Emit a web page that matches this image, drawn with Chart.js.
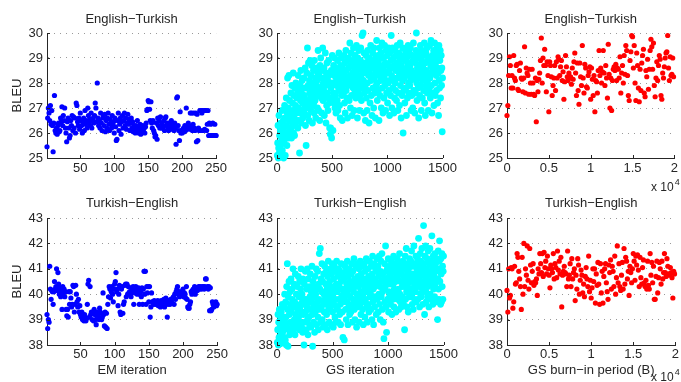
<!DOCTYPE html>
<html>
<head>
<meta charset="utf-8">
<script src="https://cdn.jsdelivr.net/npm/chart.js@4.4.1/dist/chart.umd.min.js"></script>
<style>
html,body{margin:0;padding:0;background:#fff;}
#wrap{position:relative;width:681px;height:382px;overflow:hidden;background:#fff;}
#wrap canvas{position:absolute;}
</style>
</head>
<body>
<div id="wrap"></div>
<script>
// BLEU per EM iteration (1..250)
const emEnTr=[
25.45,26.6,27.0,26.8,26.5,27.1,26.35,26.9,26.3,25.25,
26.4,27.5,26.1,26.0,26.2,25.95,26.3,26.4,26.05,26.1,
26.6,26.45,27.05,26.3,26.7,26.5,27.0,26.2,26.0,25.65,
26.45,26.6,26.2,25.8,25.9,26.5,26.3,26.7,26.1,26.65,
26.2,26.6,26.0,27.2,27.1,26.45,26.3,26.6,26.15,26.8,
26.5,26.3,26.0,26.45,26.6,26.1,26.9,26.35,26.5,26.2,
27.0,26.7,26.4,26.55,26.3,26.8,26.2,26.5,26.6,26.4,
26.7,27.2,27.0,26.45,28.0,26.6,26.3,26.5,26.2,26.8,
26.4,26.1,26.6,26.7,26.3,26.75,26.05,26.5,26.2,26.6,
26.8,26.35,26.1,26.55,26.4,26.2,26.7,26.3,26.45,26.0,
26.6,26.25,25.7,25.75,26.5,26.8,26.1,26.35,26.6,25.95,
26.45,26.7,26.2,26.5,26.8,26.3,26.6,26.15,26.4,26.75,
26.35,26.55,26.1,26.4,26.6,26.2,26.45,26.05,26.3,26.15,
26.0,26.3,26.2,26.5,26.1,26.0,26.25,26.35,25.95,26.2,
26.1,26.3,26.15,26.2,26.0,26.25,26.4,26.9,26.95,27.3,
27.25,26.95,26.5,27.25,26.4,26.2,26.5,26.1,26.0,25.85,
25.9,26.4,25.75,26.6,26.3,26.5,26.2,26.65,26.2,26.4,
26.2,26.3,26.5,26.1,26.6,26.65,26.3,26.4,26.2,26.1,
26.4,26.3,26.15,26.5,26.2,26.35,26.3,26.1,26.4,26.2,
25.55,27.4,27.45,26.3,26.1,25.7,26.85,26.0,26.1,26.0,
26.15,26.2,26.05,26.3,26.1,27.0,26.2,26.25,26.4,26.3,
26.15,26.8,26.2,26.8,26.1,26.35,26.8,26.2,26.1,26.8,
25.65,26.75,25.7,26.2,26.1,26.9,26.1,26.9,26.8,26.9,
26.1,26.9,26.15,26.9,26.9,26.1,26.35,26.9,25.9,26.4,
25.9,26.35,25.9,25.9,26.4,25.9,25.9,26.35,25.9,25.9
];
const emTrEn=[
39.2,38.65,39.0,38.9,41.1,40.2,39.8,40.15,40.1,39.6,
40.1,40.5,40.2,40.3,41.0,40.15,40.85,40.4,40.0,40.25,
39.9,40.1,39.4,40.3,39.95,40.2,39.9,40.1,39.4,39.15,
39.4,39.1,40.1,39.6,40.1,39.85,39.5,39.6,40.35,40.3,
39.3,39.6,40.35,40.0,39.7,39.5,39.8,39.3,39.55,39.2,
39.1,39.3,39.0,39.05,38.95,39.2,39.0,38.95,39.05,39.6,
40.4,40.55,39.1,40.3,39.2,39.3,39.0,39.3,38.95,39.4,
39.2,39.0,38.8,39.3,39.1,39.2,39.0,39.45,39.3,39.25,
39.0,39.1,40.05,39.2,38.75,39.3,38.7,39.25,38.65,39.6,
39.9,40.3,40.2,39.85,40.1,40.3,40.0,39.7,40.2,40.4,
40.5,40.85,40.1,40.2,39.55,40.0,40.35,39.3,39.2,40.2,
40.3,39.25,39.6,39.7,40.35,40.4,39.9,40.4,40.0,40.3,
40.05,40.1,40.0,39.9,40.25,40.1,40.3,39.6,40.2,40.05,
40.3,40.1,40.0,40.2,40.25,39.6,40.0,40.1,39.9,40.25,
39.6,40.2,40.9,40.0,40.9,39.6,40.3,40.05,40.3,39.7,
40.3,39.1,39.5,40.05,39.7,39.7,39.6,39.75,39.7,39.6,
39.65,39.7,39.75,39.55,39.6,39.7,39.5,39.75,39.65,39.55,
39.7,39.8,39.5,39.6,39.85,39.7,39.1,39.6,39.75,39.7,
39.6,39.8,39.7,39.65,39.85,39.9,39.6,40.0,39.8,40.1,
40.2,40.3,40.0,40.1,39.9,40.05,40.0,40.1,39.95,40.2,
39.9,40.05,40.0,39.85,40.3,39.8,39.5,39.45,39.45,39.6,
39.7,40.1,40.0,40.15,40.2,40.1,40.3,40.0,40.2,40.25,
40.15,40.25,40.3,40.2,40.3,40.25,40.2,40.3,40.25,40.3,
40.2,40.3,40.6,40.6,40.25,40.3,40.2,40.3,39.35,40.25,
39.35,39.4,39.7,39.6,39.5,39.65,39.6,39.7,39.55,39.6
];
// BLEU per GS iteration, one reading every 3 iterations (3..1500)
const gsEnTr=[
25.1,25.6,26.3,25.0,25.4,26.7,25.2,25.9,25.05,26.1,25.5,26.4,25.15,25.8,26.9,25.3,26.0,25.6,26.5,25.0,
26.2,25.7,27.1,26.6,25.1,26.9,25.9,27.4,26.3,25.5,26.8,28.2,26.0,27.0,25.8,28.3,26.5,27.3,26.1,25.9,
26.7,27.6,26.2,25.8,27.9,26.4,27.2,26.9,28.4,26.0,27.5,26.6,25.9,27.8,26.3,27.1,28.0,26.8,26.5,27.4,
26.9,27.7,26.2,28.3,27.0,26.5,27.5,25.2,27.9,26.8,27.3,28.5,26.4,27.6,26.9,28.1,27.2,26.6,27.8,27.4,
28.2,26.8,27.5,27.1,28.6,26.3,27.8,25.5,27.3,28.4,27.0,29.4,26.7,27.9,28.8,27.2,26.5,28.1,27.6,28.9,
27.4,28.3,26.9,27.8,28.7,27.1,26.4,28.0,27.5,28.5,27.2,26.8,28.9,27.7,27.3,28.2,26.6,27.9,28.6,27.6,
28.1,27.0,28.4,29.3,27.5,26.9,28.3,27.8,26.5,28.7,27.6,29.0,28.2,27.4,26.8,28.5,27.9,29.4,27.3,28.0,
27.7,28.6,26.7,28.2,27.5,29.2,27.9,26.4,28.4,27.1,28.8,27.6,28.1,26.9,27.4,28.9,28.3,27.2,26.2,28.0,
25.95,26.2,27.8,28.5,25.8,27.4,29.1,28.0,26.1,27.6,28.7,27.2,28.3,29.0,27.0,28.6,27.5,26.8,28.2,27.9,
28.4,27.3,28.9,26.9,28.1,27.7,29.2,28.5,27.1,28.0,26.6,28.7,27.8,29.0,28.3,27.5,26.5,28.6,27.9,28.2,
27.6,29.1,28.4,27.2,28.8,26.8,28.0,29.3,27.7,28.5,27.4,28.9,26.6,28.2,27.9,29.0,28.6,27.3,28.1,29.6,
28.3,27.0,28.7,29.2,27.5,28.0,26.7,28.9,28.4,27.8,29.4,28.1,26.9,28.6,27.6,29.1,28.2,27.4,28.8,29.5,
27.9,28.5,26.6,29.0,28.3,27.7,29.3,28.0,26.9,28.7,27.5,28.9,29.4,28.2,27.3,28.6,29.9,27.8,28.4,30.0,
28.1,26.8,29.2,27.6,28.8,27.9,26.5,28.4,29.1,27.4,28.6,26.9,28.0,29.3,27.7,28.9,28.3,26.4,29.0,28.5,
27.2,28.7,29.5,28.1,27.5,28.9,26.7,28.3,29.2,27.8,28.6,27.0,29.4,28.2,27.6,28.8,26.6,29.0,28.4,27.9,
29.7,28.0,27.3,28.6,29.1,27.7,28.9,26.5,28.3,29.4,27.5,28.7,28.1,29.2,27.0,28.5,29.6,27.8,28.2,26.8,
28.6,29.0,27.4,28.3,29.5,27.9,28.8,26.9,28.1,29.3,27.6,28.4,29.1,27.2,28.7,28.0,29.4,27.7,28.5,26.7,
29.2,28.1,27.5,28.9,29.9,28.3,27.0,28.6,29.4,27.8,28.2,29.0,26.8,28.7,27.4,29.3,28.0,27.7,28.5,29.1,
27.3,28.8,29.5,28.2,26.9,28.6,27.6,29.2,28.4,27.1,28.9,29.6,27.9,28.3,26.6,28.7,29.0,27.5,28.1,29.4,
26.0,28.5,27.7,29.1,28.2,27.2,28.9,29.3,27.8,28.4,26.7,29.0,28.6,27.4,28.8,29.5,28.0,27.6,28.3,29.2,
27.9,28.7,29.4,28.1,26.9,28.5,27.5,29.1,28.3,27.0,28.9,29.6,27.7,28.4,29.0,26.8,28.2,27.6,28.8,29.3,
30.0,28.0,27.3,28.6,29.2,27.8,28.4,26.6,29.0,28.7,27.5,28.2,29.5,27.9,28.5,26.9,28.9,29.3,27.4,28.1,
28.6,29.1,27.7,28.3,29.6,27.2,28.8,26.7,28.4,29.2,27.9,28.5,29.4,27.6,28.1,28.9,26.9,29.0,28.3,27.8,
29.5,28.2,27.4,28.7,29.7,27.9,28.4,26.8,29.1,28.6,27.6,28.9,29.3,27.1,28.5,29.6,28.0,27.5,28.8,29.2,
28.3,27.7,29.4,28.6,27.2,29.0,28.4,26.7,29.5,28.1,27.8,28.9,29.3,27.4,28.5,29.1,27.9,28.6,26.05,28.2
];
const gsTrEn=[
38.1,38.6,39.2,38.0,38.9,38.3,39.4,38.2,38.7,38.05,39.0,38.4,39.3,38.15,38.8,39.6,38.5,38.25,39.1,38.6,
39.5,38.3,40.0,38.9,38.2,39.7,39.1,38.0,40.3,38.7,41.2,39.4,37.95,39.9,38.6,40.5,39.2,38.4,40.1,39.6,
38.9,40.6,39.3,38.5,40.2,39.8,38.8,41.0,39.5,38.6,40.4,39.0,39.7,38.4,40.8,39.2,38.9,40.0,39.6,38.7,
40.3,39.4,38.8,40.7,39.1,39.9,38.6,40.5,39.5,38.9,40.2,41.0,39.3,38.7,40.0,39.7,38.5,40.6,39.2,39.8,
38.0,40.4,39.6,38.9,40.9,39.3,39.8,38.6,40.2,39.5,41.0,39.0,38.4,40.6,39.7,39.1,40.3,38.8,39.9,40.8,
39.4,38.7,40.1,39.8,41.1,39.2,37.95,40.5,39.6,38.9,40.3,39.9,38.5,40.7,39.3,40.0,39.5,41.0,38.8,40.2,
39.7,40.9,39.1,38.6,40.4,39.8,41.6,39.4,40.2,41.8,38.9,40.6,39.5,40.1,41.2,39.0,40.5,39.7,38.7,40.8,
40.0,39.3,41.1,39.8,38.8,40.4,39.6,40.9,39.2,40.2,38.6,40.7,39.9,41.3,39.4,40.1,38.9,40.5,39.7,41.0,
39.5,40.3,38.8,40.8,39.9,41.2,39.3,40.0,38.7,40.6,39.6,41.1,40.2,39.1,40.9,39.8,38.9,40.4,41.3,39.5,
40.1,39.4,40.7,38.9,41.0,39.8,40.3,39.2,40.9,39.6,38.8,40.5,41.2,39.9,40.2,39.3,40.8,38.3,40.0,39.7,
40.6,38.2,39.8,41.1,40.2,39.4,40.9,39.0,40.4,39.7,41.3,40.0,38.8,40.7,39.5,40.3,41.0,39.2,40.5,39.9,
40.2,39.3,40.8,41.2,39.6,40.4,38.9,40.9,39.8,40.1,41.4,39.4,40.6,39.0,40.3,41.1,39.7,40.5,38.7,40.0,
41.2,39.5,40.7,39.9,40.3,41.0,38.9,40.5,39.6,41.3,40.1,39.2,40.8,39.8,40.4,41.1,39.4,40.0,38.8,40.6,
39.7,41.2,40.2,39.1,40.9,39.8,40.4,41.4,39.5,40.6,38.9,40.1,41.0,39.6,40.7,39.3,40.3,41.3,39.9,40.5,
40.0,39.4,41.1,40.4,39.0,40.8,41.5,39.7,40.2,38.8,40.6,41.2,39.5,40.3,39.9,41.0,40.5,39.2,40.9,41.4,
39.8,40.4,41.1,39.3,40.7,40.0,41.5,39.6,40.3,39.0,40.9,41.3,39.9,40.5,41.6,39.4,40.1,40.8,38.9,40.2,
38.25,40.6,41.2,39.7,40.3,41.9,39.5,40.9,38.5,40.4,41.0,39.8,40.6,41.4,39.3,40.1,40.7,39.9,41.1,40.4,
39.6,40.8,41.3,40.0,39.2,40.6,41.0,39.8,40.4,41.5,39.5,40.2,40.9,41.2,39.9,40.5,39.3,41.0,40.7,40.1,
41.4,39.8,40.6,41.1,40.2,39.4,40.9,41.6,40.0,39.7,40.5,41.2,39.5,40.8,41.0,40.3,39.9,41.3,40.4,39.6,
40.7,41.1,38.6,40.3,41.5,39.8,40.6,41.8,40.1,39.5,40.9,41.2,40.4,39.3,41.0,40.7,39.9,41.4,40.2,40.8,
39.9,41.3,40.5,41.7,40.0,39.6,41.1,40.8,39.4,40.6,41.9,40.3,39.8,41.2,40.7,40.1,41.5,39.7,40.4,41.0,
40.6,41.4,39.8,40.9,42.2,40.3,41.1,39.5,40.7,41.6,40.0,41.3,39.9,40.5,41.8,40.2,41.0,39.6,40.8,42.7,
41.2,40.4,39.2,41.5,40.7,41.9,40.1,39.7,41.0,40.6,41.4,39.9,40.3,41.7,40.9,39.5,41.2,40.5,41.8,40.0,
40.8,41.3,39.8,40.4,42.3,41.1,40.6,39.6,41.5,40.2,41.0,40.7,39.9,41.6,40.3,41.2,40.9,39.7,41.4,40.5,
41.0,39.0,40.6,41.7,40.2,39.8,41.3,42.1,40.5,41.0,39.6,41.4,40.8,39.7,41.6,40.3,41.1,39.8,40.9,41.5
];
// BLEU per burn-in period B (0..19900, every 100)
const burnEnTr=[
26.7,27.1,28.3,29.05,28.7,27.8,28.3,27.8,29.1,28.2,
28.1,28.7,28.75,27.75,27.7,28.5,28.8,28.2,28.15,27.65,
28.2,29.45,27.6,28.6,28.4,28.3,27.55,28.55,28.0,27.55,
28.55,28.0,27.55,27.5,28.2,26.45,28.1,27.65,28.15,28.4,
28.9,29.8,28.0,29.0,28.7,29.35,28.7,27.65,28.85,28.3,
26.85,28.85,28.7,28.25,27.5,27.9,28.2,28.7,27.7,28.85,
28.2,29.05,28.95,28.3,28.65,28.9,28.1,28.45,27.35,28.05,
29.1,28.65,28.25,28.1,28.4,28.2,28.25,27.95,28.6,28.15,
28.85,29.2,28.4,27.5,28.8,27.7,27.15,28.8,28.25,27.9,
29.5,28.2,27.6,28.75,28.6,27.85,27.8,28.3,28.45,28.65,
27.35,28.6,28.15,27.5,28.3,26.85,28.1,28.05,27.6,28.5,
29.3,28.3,28.6,28.0,28.45,29.3,28.4,27.9,28.7,28.2,
27.4,29.55,28.35,27.0,28.2,26.9,28.1,28.55,28.65,28.5,
28.75,28.1,28.6,28.55,28.2,29.05,27.6,28.4,28.7,28.0,
29.1,28.35,29.5,29.3,28.3,27.5,27.3,28.9,29.25,29.9,
29.85,28.6,29.5,28.0,27.3,29.2,28.7,27.8,27.25,28.55,
27.7,28.8,29.1,29.35,27.6,27.45,28.5,28.25,28.95,27.75,
28.55,29.3,29.75,29.45,28.55,29.6,27.9,27.45,28.2,28.85,
28.1,28.7,29.1,28.95,27.5,27.35,28.4,28.2,28.65,29.0,
29.2,29.25,29.9,28.6,28.1,29.05,28.3,28.35,29.0,28.25
];
const burnTrEn=[
40.15,39.3,41.0,39.85,39.95,41.05,41.0,39.45,39.7,41.1,
40.4,40.45,41.6,41.45,40.9,40.6,40.3,39.4,41.45,40.0,
42.0,40.3,41.0,40.75,41.9,40.55,40.2,41.8,41.15,40.45,
40.9,41.2,40.35,40.5,40.45,40.6,39.95,41.0,40.8,41.6,
41.2,40.85,41.6,40.7,41.65,41.05,41.3,40.8,41.5,41.0,
40.75,40.25,41.15,41.0,40.85,41.6,40.6,41.2,41.05,40.65,
41.7,40.95,41.3,40.8,41.45,39.5,40.75,40.9,41.1,40.85,
40.8,40.3,41.7,40.6,40.75,41.2,40.3,41.4,40.6,40.85,
41.0,39.75,40.75,40.2,41.4,41.15,40.0,40.55,40.95,40.75,
40.05,40.4,39.9,40.7,41.05,40.6,40.3,41.5,40.1,40.55,
39.85,40.25,41.0,40.5,41.0,39.65,40.8,40.35,41.25,40.4,
39.6,41.2,40.05,40.9,39.65,40.7,41.0,41.2,40.45,40.1,
39.8,41.15,40.85,41.35,40.2,41.1,40.9,40.3,41.5,40.0,
40.65,41.9,40.45,41.2,40.3,40.15,40.75,41.25,40.2,41.8,
40.4,41.45,41.3,40.6,40.9,39.95,41.1,40.85,40.45,41.0,
41.6,41.3,40.55,41.5,41.15,41.55,40.95,40.3,41.45,40.65,
40.4,41.05,41.35,40.45,40.3,40.55,40.2,41.3,40.35,40.2,
41.6,40.75,41.25,40.45,41.1,39.8,39.8,40.7,41.3,40.05,
40.65,41.25,41.0,40.4,41.3,40.6,40.85,41.6,40.85,40.7,
41.4,41.1,40.8,40.75,41.05,40.85,40.65,39.85,40.9,40.8
];

const emTicks=[50,100,150,200,250];
const gsTicks=[0,500,1000,1500];
const burnTicks=[0,5000,10000,15000,20000];
const burnTickLabels=['0','0.5','1','1.5','2'];
const yTicksEnTr=[25,26,27,28,29,30];
const yTicksTrEn=[38,39,40,41,42,43];

const FONT='"Liberation Sans", Arial, Helvetica, sans-serif';
const INK='#262626';

const inwardTicks={
  id:'inwardTicks',
  afterDatasetsDraw(chart,args,opts){
    const {ctx,chartArea:a,scales:{x,y}}=chart;
    ctx.save();
    ctx.strokeStyle=INK;ctx.lineWidth=1;
    ctx.beginPath();
    x.ticks.forEach(t=>{const p=Math.round(x.getPixelForValue(t.value))+0.5;ctx.moveTo(p,a.bottom);ctx.lineTo(p,a.bottom-3);});
    y.ticks.forEach(t=>{const p=Math.round(y.getPixelForValue(t.value))+0.5;ctx.moveTo(a.left,p);ctx.lineTo(a.left+3,p);});
    ctx.stroke();
    if(opts.exponent){
      ctx.fillStyle=INK;
      ctx.textAlign='left';ctx.textBaseline='middle';
      ctx.font='12px '+FONT;
      ctx.fillText('x 10',opts.exponent.x,opts.exponent.y);
      const w=ctx.measureText('x 10').width;
      ctx.font='9px '+FONT;
      ctx.fillText('4',opts.exponent.x+w+1,opts.exponent.y-5);
    }
    ctx.restore();
  }
};

function panel(p){
  const cv=document.createElement('canvas');
  cv.width=p.w;cv.height=p.h;
  cv.style.left=p.left+'px';cv.style.top=p.top+'px';
  document.getElementById('wrap').appendChild(cv);
  const pts=p.ys.map((v,i)=>({x:p.x0+i*p.step,y:v}));
  new Chart(cv,{
    type:'scatter',
    data:{datasets:[{data:pts,backgroundColor:p.color,borderColor:p.color,borderWidth:0,pointRadius:p.r||2.6,pointHoverRadius:p.r||2.6,clip:false}]},
    options:{
      responsive:false,animation:false,events:[],
      layout:{padding:{left:0,right:p.padR,top:0,bottom:0}},
      plugins:{
        legend:{display:false},tooltip:{enabled:false},
        title:{display:true,fullSize:false,text:p.title,color:INK,font:{family:FONT,size:13,weight:'normal'},padding:p.titlePad},
        inwardTicks:{exponent:p.exponent||null}
      },
      scales:{
        x:{type:'linear',min:p.xmin,max:p.xmax,
          afterBuildTicks:s=>{s.ticks=p.xt.map(v=>({value:v}));},
          afterFit:s=>{s.height=p.xh;},
          ticks:{autoSkip:false,maxRotation:0,padding:p.xpad,color:INK,font:{family:FONT,size:13},
            callback:(v,i)=>p.xl?p.xl[i]:String(v)},
          grid:{display:false,drawTicks:false},
          border:{display:true,color:INK,width:1},
          title:{display:!!p.xlabel,text:p.xlabel||'',color:INK,font:{family:FONT,size:13},padding:{top:0,bottom:4}}
        },
        y:{min:p.yt[0],max:p.yt[p.yt.length-1],
          afterBuildTicks:s=>{s.ticks=p.yt.map(v=>({value:v}));},
          afterFit:s=>{s.width=47;},
          ticks:{padding:4,color:INK,font:{family:FONT,size:13}},
          grid:{display:true,drawTicks:false,color:'#9a9a9a',lineWidth:1},
          border:{display:true,color:INK,width:1,dash:[1,5]},
          title:{display:!!p.ylabel,text:p.ylabel||'',color:INK,font:{family:FONT,size:13},padding:{top:10,bottom:0}}
        }
      }
    },
    plugins:[inwardTicks]
  });
}

const rowTop={top:0,h:196,xh:38,xpad:3,titlePad:{top:11.5,bottom:5.9}};
const rowBot={top:190,h:192,xh:37,xpad:2,titlePad:{top:6,bottom:6.4}};
const col1={left:0,w:230,padR:12},col2={left:230,w:230,padR:12},col3={left:460,w:221,padR:4};

panel({...rowTop,...col1,title:'English\u2212Turkish',ys:emEnTr,x0:1,step:1,xmin:1,xmax:250,xt:emTicks,yt:yTicksEnTr,color:'#0000ff',ylabel:'BLEU'});
panel({...rowTop,...col2,title:'English\u2212Turkish',ys:gsEnTr,x0:3,step:3,xmin:0,xmax:1500,xt:gsTicks,yt:yTicksEnTr,color:'#00ffff',r:3.4});
panel({...rowTop,...col3,title:'English\u2212Turkish',ys:burnEnTr,x0:0,step:100,xmin:0,xmax:20000,xt:burnTicks,xl:burnTickLabels,yt:yTicksEnTr,color:'#ff0000',exponent:{x:191,y:188}});
panel({...rowBot,...col1,title:'Turkish\u2212English',ys:emTrEn,x0:1,step:1,xmin:1,xmax:250,xt:emTicks,yt:yTicksTrEn,color:'#0000ff',ylabel:'BLEU',xlabel:'EM iteration'});
panel({...rowBot,...col2,title:'Turkish\u2212English',ys:gsTrEn,x0:3,step:3,xmin:0,xmax:1500,xt:gsTicks,yt:yTicksTrEn,color:'#00ffff',r:3.4,xlabel:'GS iteration'});
panel({...rowBot,...col3,title:'Turkish\u2212English',ys:burnTrEn,x0:0,step:100,xmin:0,xmax:20000,xt:burnTicks,xl:burnTickLabels,yt:yTicksTrEn,color:'#ff0000',xlabel:'GS burn\u2212in period (B)',exponent:{x:191,y:188}});
</script>
</body>
</html>
